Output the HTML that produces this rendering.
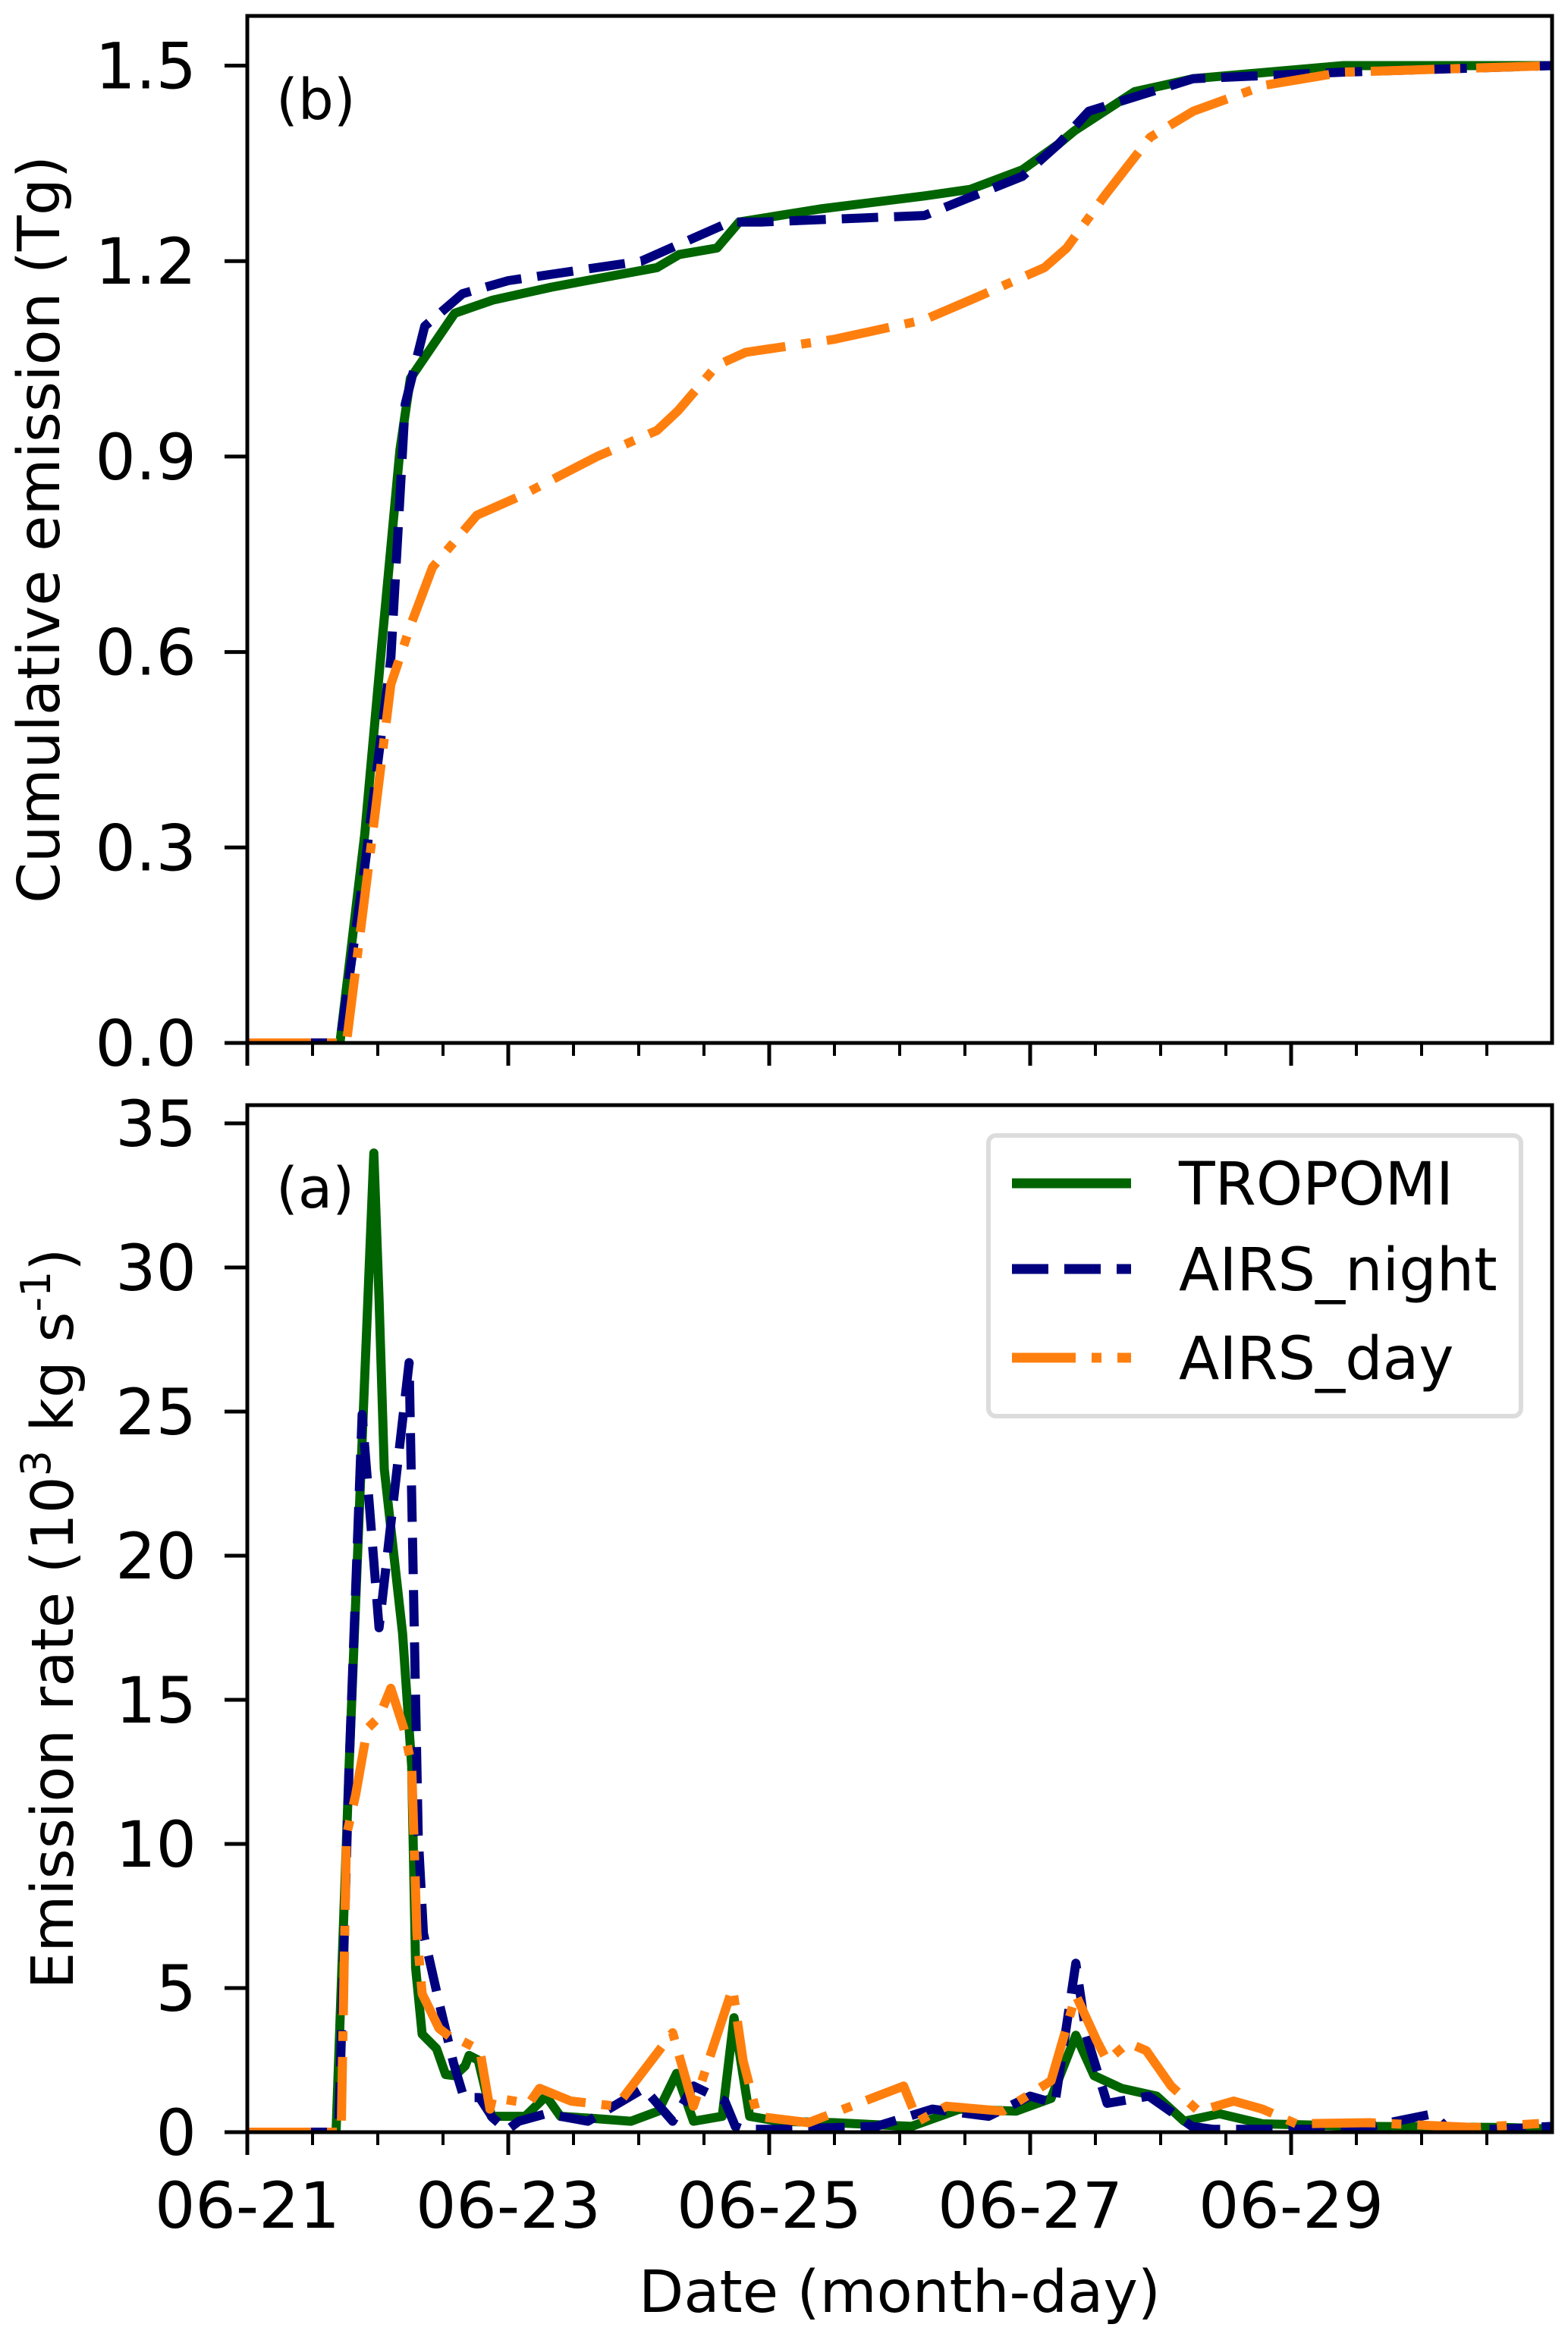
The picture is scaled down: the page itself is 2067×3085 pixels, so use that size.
<!DOCTYPE html>
<html>
<head>
<meta charset="utf-8">
<style>
  html, body { margin: 0; padding: 0; background: #fff; }
  svg { display: block; }
  text { font-family: "DejaVu Sans", "Liberation Sans", sans-serif; fill: #000; }
</style>
</head>
<body>
<svg id="fig" width="2067" height="3085" viewBox="0 0 2067 3085" xmlns="http://www.w3.org/2000/svg">
  <rect x="0" y="0" width="2067" height="3085" fill="#fff"/>
  <g id="top-panel"></g>
  <g id="bottom-panel"></g>
</svg>
<script>
// ---------- data (x in days since 06-21) ----------
const xTickLabels = ["06-21", "06-23", "06-25", "06-27", "06-29"];
const topYTicks = [0.0, 0.3, 0.6, 0.9, 1.2, 1.5];
const topYTickLabels = ["0.0", "0.3", "0.6", "0.9", "1.2", "1.5"];
const botYTicks = [0, 5, 10, 15, 20, 25, 30, 35];
const botYTickLabels = ["0", "5", "10", "15", "20", "25", "30", "35"];
const seriesNames = ["TROPOMI", "AIRS_night", "AIRS_day"];

// cumulative emission (Tg)
const cumTropomiX = [0, 0.71, 0.90, 1.03, 1.17, 1.25, 1.42, 1.59, 1.88, 2.33, 3.14, 3.31, 3.6, 3.77, 4.39, 5.19, 5.54, 5.94, 6.22, 6.34, 6.8, 7.25, 8.4, 10];
const cumTropomiY = [0, 0, 0.32, 0.61, 0.91, 1.02, 1.07, 1.12, 1.14, 1.16, 1.19, 1.21, 1.22, 1.26, 1.28, 1.30, 1.31, 1.34, 1.38, 1.40, 1.46, 1.48, 1.50, 1.50];
const cumNightX = [0, 0.71, 0.90, 1.10, 1.21, 1.36, 1.65, 2.0, 3.02, 3.36, 3.7, 3.94, 5.19, 5.94, 6.22, 6.45, 7.25, 8.4, 10];
const cumNightY = [0, 0, 0.27, 0.59, 0.98, 1.10, 1.15, 1.17, 1.20, 1.23, 1.26, 1.26, 1.27, 1.33, 1.38, 1.43, 1.48, 1.49, 1.50];
const cumDayX = [0, 0.76, 0.96, 1.10, 1.25, 1.42, 1.76, 2.1, 2.68, 3.14, 3.3, 3.6, 3.82, 4.5, 5.19, 5.54, 6.11, 6.28, 6.57, 6.92, 7.25, 7.8, 8.4, 10];
const cumDayY = [0, 0, 0.32, 0.55, 0.64, 0.73, 0.81, 0.84, 0.90, 0.94, 0.97, 1.04, 1.06, 1.08, 1.11, 1.14, 1.19, 1.22, 1.30, 1.39, 1.43, 1.47, 1.49, 1.50];

// emission rate (10^3 kg/s)
const rateTropomiX = [0, 0.68, 0.78, 0.88, 0.97, 1.01, 1.05, 1.19, 1.26, 1.29, 1.34, 1.45, 1.52, 1.59, 1.67, 1.70, 1.77, 1.86, 1.87, 2.13, 2.29, 2.40, 2.67, 2.94, 3.15, 3.29, 3.42, 3.64, 3.73, 3.80, 3.85, 4.07, 4.5, 5.09, 5.46, 5.89, 6.16, 6.35, 6.49, 6.70, 6.97, 7.18, 7.45, 7.78, 8.58, 9.66, 9.98];
const rateTropomiY = [0, 0, 12.7, 24, 33.97, 28.9, 23, 17.3, 12.7, 5.7, 3.4, 2.9, 2.0, 1.96, 2.3, 2.66, 2.5, 0.8, 0.55, 0.55, 1.25, 0.55, 0.47, 0.38, 0.73, 2.04, 0.38, 0.55, 3.97, 1.96, 0.55, 0.38, 0.33, 0.2, 0.8, 0.73, 1.17, 3.36, 1.96, 1.52, 1.25, 0.38, 0.64, 0.29, 0.2, 0.16, 0.11];
const rateNightX = [0, 0.70, 0.78, 0.88, 1.01, 1.24, 1.28, 1.31, 1.35, 1.47, 1.58, 1.66, 1.78, 1.88, 1.99, 2.08, 2.29, 2.61, 3.04, 3.26, 3.42, 3.66, 3.74, 3.80, 4.07, 4.82, 5.25, 5.68, 6.0, 6.19, 6.35, 6.43, 6.59, 6.91, 7.24, 7.40, 8.5, 9.09, 9.2, 9.6, 10];
const rateNightY = [0, 0, 12.7, 24.9, 17.5, 26.7, 17.3, 10.3, 6.9, 4.5, 2.4, 1.2, 1.2, 0.5, 0.07, 0.38, 0.64, 0.38, 1.52, 0.38, 1.6, 1.08, 0.2, 0.1, 0.1, 0.2, 0.8, 0.55, 1.25, 1.0, 5.86, 3.36, 1.0, 1.25, 0.2, 0.1, 0.1, 0.64, 0.1, 0.1, 0.2];
const rateDayX = [0, 0.72, 0.76, 0.83, 0.92, 1.01, 1.10, 1.20, 1.26, 1.30, 1.34, 1.47, 1.59, 1.63, 1.75, 1.78, 1.86, 1.88, 2.16, 2.24, 2.48, 2.83, 3.26, 3.42, 3.72, 3.80, 3.91, 4.3, 5.03, 5.14, 5.36, 5.79, 6.16, 6.35, 6.51, 6.59, 6.75, 6.89, 7.08, 7.29, 7.56, 7.78, 8.04, 8.6, 9.4, 9.9];
const rateDayY = [0, 0, 10.3, 11.7, 14, 14.4, 15.4, 14, 12.7, 6.9, 4.8, 3.6, 3.18, 3.2, 2.92, 2.9, 0.8, 1.2, 1.0, 1.52, 1.08, 0.9, 3.45, 0.9, 5.0, 2.48, 0.55, 0.33, 1.6, 0.38, 0.9, 0.73, 1.78, 4.76, 3.18, 2.48, 3.1, 2.83, 1.6, 0.73, 1.08, 0.8, 0.29, 0.33, 0.16, 0.3];

// ---------- layout ----------
const NS = "http://www.w3.org/2000/svg";
const X0 = 326, DAY = 172;
const sx = d => X0 + d * DAY;
const topY = v => 1375 - v * 859;
const botY = v => 2811 - v * 38;
const colors = ["#006400", "#00007f", "#ff7f0e"];
const dashes = [null, "48,21", "84,21,13,21"];

function mk(tag, attrs, parent) {
  const e = document.createElementNS(NS, tag);
  for (const k in attrs) e.setAttribute(k, attrs[k]);
  parent.appendChild(e);
  return e;
}

function drawLine(parent, xs, ys, yf, idx, name) {
  let d = "";
  for (let i = 0; i < xs.length; i++) d += (i ? "L" : "M") + sx(xs[i]).toFixed(1) + "," + yf(ys[i]).toFixed(1);
  const p = mk("path", {d: d, fill: "none", stroke: colors[idx], "stroke-width": 12, "stroke-linejoin": "round", "stroke-linecap": idx === 0 ? "round" : "butt"}, parent);
  if (dashes[idx]) p.setAttribute("stroke-dasharray", dashes[idx]);
  
  
}

function drawAxes(g, top, bottom, yf, yTicks, yLabels, showX, panelName) {
  const cid = "clip-" + panelName;
  const cp = mk("clipPath", {id: cid}, g);
  mk("rect", {x: X0, y: top, width: 10 * DAY, height: bottom - top}, cp);
  const lines = mk("g", {"clip-path": "url(#" + cid + ")"}, g);
  
  
  for (let i = 0; i < yTicks.length; i++) {
    const y = yf(yTicks[i]);
    const t = mk("line", {x1: 296, x2: X0, y1: y, y2: y, stroke: "#000", "stroke-width": 5}, g);
    
    
    const tl = mk("text", {x: 259, y: y + 30, "text-anchor": "end", "font-size": 84}, g);
    tl.textContent = yLabels[i];
    
    
  }
  for (let h = 0; h <= 19; h++) {
    const x = sx(h / 2);
    const major = h % 4 === 0;
    const t = mk("line", {x1: x, x2: x, y1: bottom, y2: bottom + (major ? 30 : 17), stroke: "#000", "stroke-width": major ? 5 : 4}, g);
    
    
    if (major && showX) {
      const tl = mk("text", {x: x, y: 2937, "text-anchor": "middle", "font-size": 84}, g);
      tl.textContent = xTickLabels[h / 4];
      
      
    }
  }
  return lines;
}

function frame(g, top, bottom, name) {
  const r = mk("rect", {x: X0, y: top, width: 10 * DAY, height: bottom - top, fill: "none", stroke: "#000", "stroke-width": 5}, g);
  
  
}

// ---------- top panel ----------
const gt = document.getElementById("top-panel");
const lt = drawAxes(gt, 21, 1375, topY, topYTicks, topYTickLabels, false, "top");
drawLine(lt, cumTropomiX, cumTropomiY, topY, 0, "tropomi-cumulative-line");
drawLine(lt, cumNightX, cumNightY, topY, 1, "airs-night-cumulative-line");
drawLine(lt, cumDayX, cumDayY, topY, 2, "airs-day-cumulative-line");
frame(gt, 21, 1375, "top-axes-frame");
const pb = mk("text", {x: 364, y: 157, "font-size": 74}, gt);
pb.textContent = "(b)";


const ylt = mk("text", {x: 0, y: 0, "font-size": 77, "text-anchor": "middle", transform: "translate(78,698) rotate(-90)"}, gt);
ylt.textContent = "Cumulative emission (Tg)";



// ---------- bottom panel ----------
const gb = document.getElementById("bottom-panel");
const lb = drawAxes(gb, 1457, 2811, botY, botYTicks, botYTickLabels, true, "bottom");
drawLine(lb, rateTropomiX, rateTropomiY, botY, 0, "tropomi-rate-line");
drawLine(lb, rateNightX, rateNightY, botY, 1, "airs-night-rate-line");
drawLine(lb, rateDayX, rateDayY, botY, 2, "airs-day-rate-line");
frame(gb, 1457, 2811, "bottom-axes-frame");
const pa = mk("text", {x: 364, y: 1592, "font-size": 74}, gb);
pa.textContent = "(a)";


const ylb = mk("text", {x: 0, y: 0, "font-size": 77, "text-anchor": "middle", transform: "translate(96,2134) rotate(-90)"}, gb);
ylb.innerHTML = 'Emission rate (10<tspan dy="-30" font-size="54">3</tspan><tspan dy="30"> kg s</tspan><tspan dy="-30" font-size="54">-1</tspan><tspan dy="30">)</tspan>';


const xl = mk("text", {x: 1186, y: 3048, "font-size": 77, "text-anchor": "middle"}, gb);
xl.textContent = "Date (month-day)";



// ---------- legend ----------
const lg = mk("g", {}, gb);


const lbox = mk("rect", {x: 1303, y: 1497, width: 702, height: 370, rx: 10, ry: 10, fill: "#fff", stroke: "#dcdcdc", "stroke-width": 6}, lg);


const rowY = [1560, 1673, 1790];
for (let i = 0; i < 3; i++) {
  const ln = mk("line", {x1: 1334, x2: 1491, y1: rowY[i], y2: rowY[i], stroke: colors[i], "stroke-width": 13}, lg);
  if (dashes[i]) ln.setAttribute("stroke-dasharray", dashes[i]);
  
  
  const t = mk("text", {x: 1554, y: rowY[i] + 28, "font-size": 78}, lg);
  t.textContent = seriesNames[i];
  
  
}
</script>
</body>
</html>
